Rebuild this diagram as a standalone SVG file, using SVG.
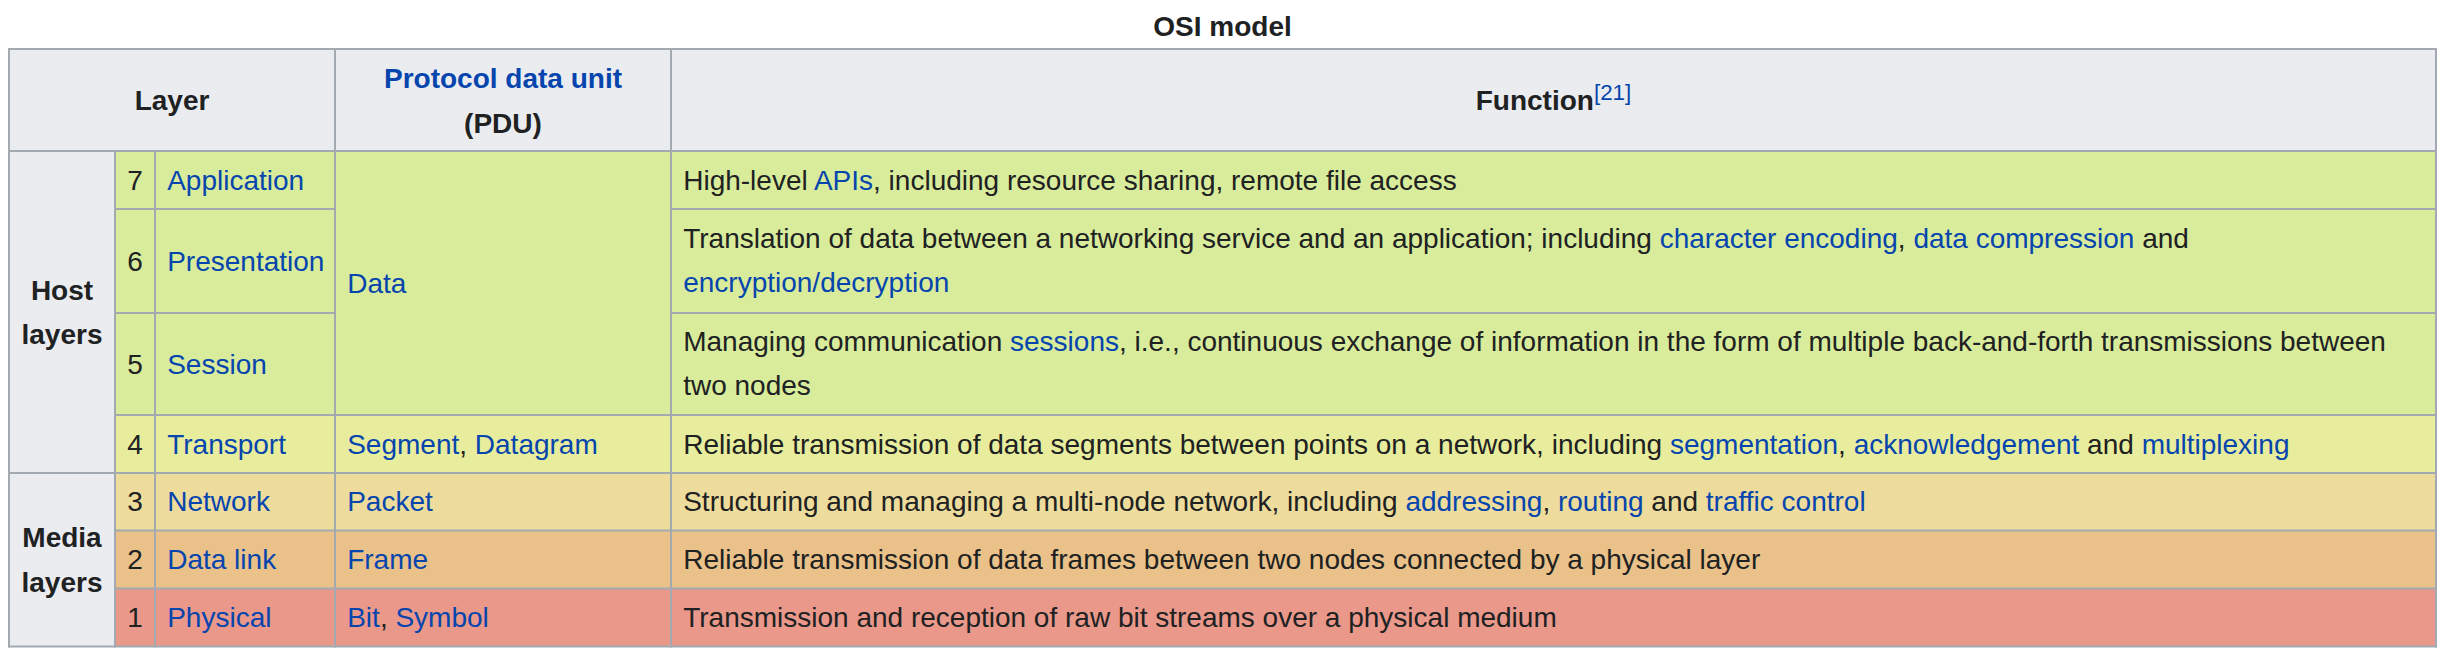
<svg xmlns="http://www.w3.org/2000/svg" width="2452" height="666" viewBox="0 0 2452 666">
<style>
text { font-family: "Liberation Sans", Arial, Helvetica, sans-serif; font-size: 28px; fill: #202122; }
.b { font-weight: bold; }
.l { fill: #0645ad; }
.mid { text-anchor: middle; }
.hd { fill: #eaecf0; }
.g7 { fill: #d8ec9c; }
.g4 { fill: #e7ed9c; }
.g3 { fill: #eddc9c; }
.g2 { fill: #e9c189; }
.g1 { fill: #e9988a; }
.grid line { stroke: #a2a9b1; stroke-width: 2; }
</style>
<rect x="0" y="0" width="2452" height="666" fill="#ffffff"/>
<g id="title">
<text class="b mid" x="1222.5" y="36">OSI model</text>
</g>
<g id="header">
<rect class="hd" x="9" y="49" width="2427" height="102"/>
<text class="b mid" x="172" y="110">Layer</text>
<text class="b mid" x="503" y="87.5"><tspan class="l">Protocol data unit</tspan></text>
<text class="b mid" x="503" y="132.5">(PDU)</text>
<text class="b mid" x="1553.5" y="110">Function<tspan class="l" style="font-weight:normal;font-size:22.4px" dy="-10">[21]</tspan></text>
</g>
<g id="host-layers">
<rect class="hd" x="9" y="151" width="106" height="322"/>
<text class="b mid" x="62" y="299.5">Host</text>
<text class="b mid" x="62" y="344">layers</text>
</g>
<g id="media-layers">
<rect class="hd" x="9" y="473" width="106" height="173.5"/>
<text class="b mid" x="62" y="547">Media</text>
<text class="b mid" x="62" y="591.5">layers</text>
</g>
<g id="pdu-data">
<rect class="g7" x="335" y="151" width="336" height="264"/>
<text x="347.2" y="292.5"><tspan class="l">Data</tspan></text>
</g>
<g id="layer7">
<rect class="g7" x="115" y="151" width="220" height="58"/>
<rect class="g7" x="671" y="151" width="1765" height="58"/>
<text x="127.2" y="189.5">7</text>
<text x="167.2" y="189.5"><tspan class="l">Application</tspan></text>
<text x="683.2" y="189.5">High-level <tspan class="l">APIs</tspan>, including resource sharing, remote file access</text>
</g>
<g id="layer6">
<rect class="g7" x="115" y="209" width="220" height="104"/>
<rect class="g7" x="671" y="209" width="1765" height="104"/>
<text x="127.2" y="270.5">6</text>
<text x="167.2" y="270.5"><tspan class="l">Presentation</tspan></text>
<text x="683.2" y="247.5">Translation of data between a networking service and an application; including <tspan class="l">character encoding</tspan>, <tspan class="l">data compression</tspan> and</text>
<text x="683.2" y="292"><tspan class="l">encryption/decryption</tspan></text>
</g>
<g id="layer5">
<rect class="g7" x="115" y="313" width="220" height="102"/>
<rect class="g7" x="671" y="313" width="1765" height="102"/>
<text x="127.2" y="373.5">5</text>
<text x="167.2" y="373.5"><tspan class="l">Session</tspan></text>
<text x="683.2" y="350.5">Managing communication <tspan class="l">sessions</tspan>, i.e., continuous exchange of information in the form of multiple back-and-forth transmissions between</text>
<text x="683.2" y="395">two nodes</text>
</g>
<g id="layer4">
<rect class="g4" x="115" y="415" width="2321" height="58"/>
<text x="127.2" y="453.5">4</text>
<text x="167.2" y="453.5"><tspan class="l">Transport</tspan></text>
<text x="347.2" y="453.5"><tspan class="l">Segment</tspan>, <tspan class="l">Datagram</tspan></text>
<text x="683.2" y="453.5">Reliable transmission of data segments between points on a network, including <tspan class="l">segmentation</tspan>, <tspan class="l">acknowledgement</tspan> and <tspan class="l">multiplexing</tspan></text>
</g>
<g id="layer3">
<rect class="g3" x="115" y="473" width="2321" height="57.5"/>
<text x="127.2" y="511">3</text>
<text x="167.2" y="511"><tspan class="l">Network</tspan></text>
<text x="347.2" y="511"><tspan class="l">Packet</tspan></text>
<text x="683.2" y="511">Structuring and managing a multi-node network, including <tspan class="l">addressing</tspan>, <tspan class="l">routing</tspan> and <tspan class="l">traffic control</tspan></text>
</g>
<g id="layer2">
<rect class="g2" x="115" y="530.5" width="2321" height="58"/>
<text x="127.2" y="569">2</text>
<text x="167.2" y="569"><tspan class="l">Data link</tspan></text>
<text x="347.2" y="569"><tspan class="l">Frame</tspan></text>
<text x="683.2" y="569">Reliable transmission of data frames between two nodes connected by a physical layer</text>
</g>
<g id="layer1">
<rect class="g1" x="115" y="588.5" width="2321" height="58"/>
<text x="127.2" y="627">1</text>
<text x="167.2" y="627"><tspan class="l">Physical</tspan></text>
<text x="347.2" y="627"><tspan class="l">Bit</tspan>, <tspan class="l">Symbol</tspan></text>
<text x="683.2" y="627">Transmission and reception of raw bit streams over a physical medium</text>
</g>
<g id="grid" class="grid">
<line x1="8" y1="49" x2="2437" y2="49"/>
<line x1="8" y1="151" x2="2437" y2="151"/>
<line x1="115" y1="209" x2="335" y2="209"/>
<line x1="671" y1="209" x2="2437" y2="209"/>
<line x1="115" y1="313" x2="335" y2="313"/>
<line x1="671" y1="313" x2="2437" y2="313"/>
<line x1="115" y1="415" x2="2437" y2="415"/>
<line x1="8" y1="473" x2="2437" y2="473"/>
<line x1="115" y1="530.5" x2="2437" y2="530.5"/>
<line x1="115" y1="588.5" x2="2437" y2="588.5"/>
<line x1="8" y1="646.5" x2="2437" y2="646.5"/>
<line x1="9" y1="48" x2="9" y2="647.5"/>
<line x1="115" y1="151" x2="115" y2="647.5"/>
<line x1="155" y1="151" x2="155" y2="647.5"/>
<line x1="335" y1="48" x2="335" y2="647.5"/>
<line x1="671" y1="48" x2="671" y2="647.5"/>
<line x1="2436" y1="48" x2="2436" y2="647.5"/>
</g>
</svg>
